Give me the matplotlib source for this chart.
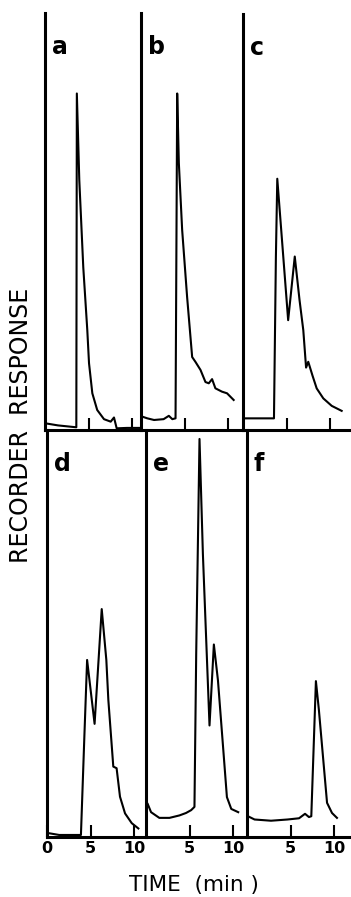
import matplotlib
matplotlib.use('Agg')
import matplotlib.pyplot as plt

# Хроматограммы a-f: время (мин) и отклик самописца (% шкалы)
t_a = [0.05, 1.5, 3.6, 3.66, 3.94, 4.4, 4.86, 5.06, 5.44, 6.0, 6.78, 7.55, 7.93, 8.24, 9.4, 10.9]
r_a = [1.6, 1.1, 0.65, 80.7, 60.0, 39.0, 24.0, 16.0, 8.8, 4.8, 2.6, 2.0, 3.0, 0.4, 0.5, 0.5]

t_b = [0.15, 0.72, 1.5, 2.6, 3.2, 3.6, 3.97, 4.16, 4.35, 4.73, 5.3, 5.88, 6.27, 6.84,
       7.41, 7.79, 8.17, 8.55, 9.3, 9.89, 10.65]
r_b = [3.2, 2.8, 2.4, 2.6, 3.4, 2.6, 2.8, 80.7, 64.0, 48.0, 31.9, 17.5, 16.3, 14.4,
       11.5, 11.2, 12.2, 10.0, 9.2, 8.8, 7.2]

t_c = [0.15, 3.56, 3.78, 3.94, 5.19, 5.95, 6.5, 6.93, 7.25, 7.5, 8.0, 8.47, 9.23, 10.2, 11.34]
r_c = [2.8, 2.8, 41.5, 60.4, 26.4, 41.7, 31.2, 24.0, 15.0, 16.4, 13.0, 10.0, 7.6, 5.8, 4.6]

t_d = [0.03, 1.4, 3.9, 4.3, 4.61, 5.47, 6.29, 6.82, 7.05, 7.62, 8.0, 8.39, 8.97, 9.74, 10.5]
r_d = [1.0, 0.5, 0.5, 25.0, 43.5, 27.8, 56.0, 43.5, 33.7, 17.3, 16.9, 9.9, 5.8, 3.4, 2.1]

t_e = [0.2, 0.58, 1.53, 2.7, 3.84, 4.6, 5.19, 5.57, 5.77, 6.15, 6.54, 7.3, 7.8, 8.27,
       8.92, 9.3, 9.8, 10.6]
r_e = [8.1, 6.1, 4.7, 4.7, 5.3, 5.9, 6.6, 7.4, 45.0, 97.8, 69.5, 27.4, 47.3, 38.5,
       20.4, 9.8, 6.9, 6.1]

t_f = [0.11, 0.87, 2.76, 4.66, 5.98, 6.67, 7.12, 7.39, 7.92, 8.26, 8.9, 9.2, 9.77, 10.34]
r_f = [5.1, 4.3, 4.0, 4.3, 4.6, 5.7, 4.9, 5.1, 38.3, 31.3, 15.7, 8.4, 5.9, 4.7]

tick_pos = [5, 10]
tick_lab = ['5', '10']

W, H = 351, 897
PX_PER_MIN = 8.7

fig = plt.figure(figsize=(W / 100, H / 100), dpi=100)

# буква, данные, границы панели в пикселях (лево, право, верх, низ)
panels = [
    ('a', t_a, r_a, 45, 141, 13, 430),
    ('b', t_b, r_b, 141, 243, 13, 430),
    ('c', t_c, r_c, 243, 351, 14, 430),
    ('d', t_d, r_d, 47, 146, 430, 837),
    ('e', t_e, r_e, 146, 247, 430, 837),
    ('f', t_f, r_f, 247, 351, 430, 837),
]

for letter, t, r, left, right, top, bottom in panels:
    w, h = right - left, bottom - top
    ax = fig.add_axes([left / W, 1 - bottom / H, w / W, h / H])
    ax.patch.set_alpha(0)
    ax.plot(t, r, color='black', lw=1.5, solid_joinstyle='round')
    ax.set_xlim(0, w / PX_PER_MIN)
    ax.set_ylim(0, 100)
    for s in ['top', 'right']:
        ax.spines[s].set_visible(False)
    for s in ['left', 'bottom']:
        ax.spines[s].set_linewidth(2.2)
    ax.set_yticks([])
    if letter == 'd':
        ax.set_xticks([0] + tick_pos)
        ax.set_xticklabels(['0'] + tick_lab)
    else:
        ax.set_xticks(tick_pos)
        ax.set_xticklabels(tick_lab if top > 100 else [])
    ax.tick_params(axis='x', direction='in', length=9, width=1.5, pad=3,
                   labelsize=11.5)
    for lab in ax.get_xticklabels():
        lab.set_fontweight('bold')
    ax.text(7 / w, 1 - 41 / h, letter, transform=ax.transAxes,
            fontsize=17, fontweight='bold', ha='left', va='baseline')

fig.text(21.5 / W, 1 - 425 / H, 'RECORDER  RESPONSE', rotation=90,
         ha='center', va='center', fontsize=17)
fig.text(194 / W, 1 - 891 / H, 'TIME  (min )', ha='center', va='baseline',
         fontsize=15.5)

plt.savefig('out.png', dpi=100)
